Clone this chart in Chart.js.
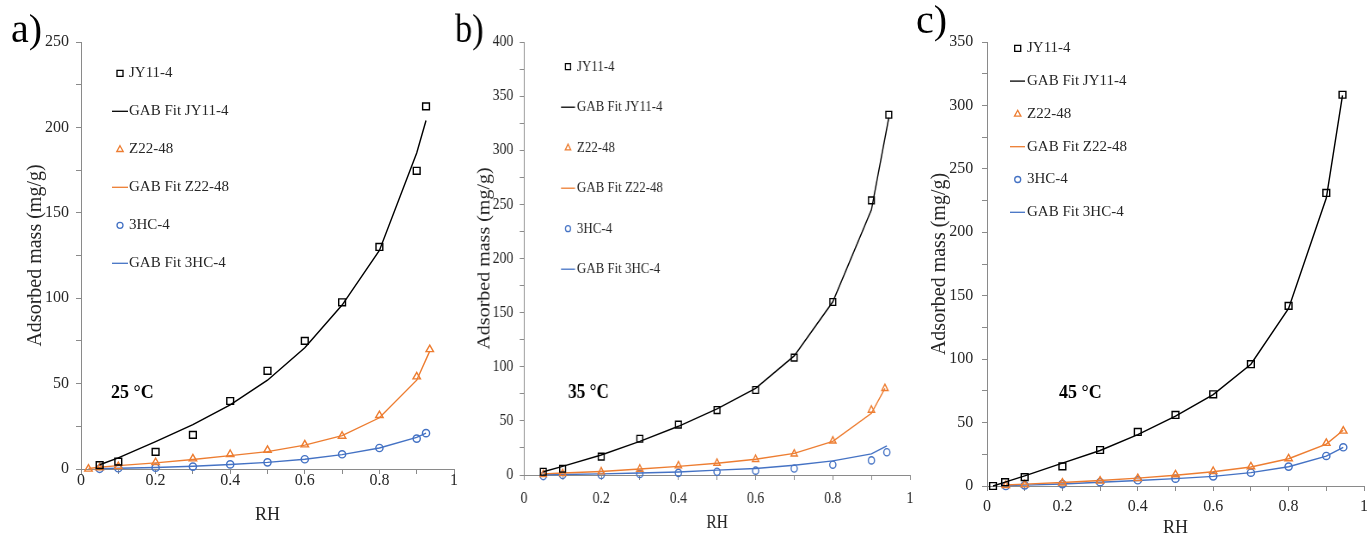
<!DOCTYPE html>
<html>
<head>
<meta charset="utf-8">
<script src="https://cdn.jsdelivr.net/npm/chart.js@4.4.1/dist/chart.umd.min.js"></script>
<style>
  html, body { margin: 0; padding: 0; background: #fff; overflow: hidden; width: 1367px; height: 537px; }
  .panel { position: absolute; top: 0; }
  .panel canvas { display: block; }
  #pa { left: 0; }
  #pb { left: 455px; transform: scaleX(0.86); transform-origin: 0 0; }
  #pc { left: 900px; }
</style>
</head>
<body>
<div class="panel" id="pa"><canvas id="ca" width="470" height="560"></canvas></div>
<div class="panel" id="pb"><canvas id="cb" width="547" height="560"></canvas></div>
<div class="panel" id="pc"><canvas id="cc" width="480" height="560"></canvas></div>
<script>
// ---- Water sorption isotherms: adsorbed mass (mg/g) vs relative humidity ----
const seriesNames = ['JY11-4', 'GAB Fit JY11-4', 'Z22-48', 'GAB Fit Z22-48', '3HC-4', 'GAB Fit 3HC-4'];
const panelTags = ['a)', 'b)', 'c)'];
const temperatures = ['25 °C', '35 °C', '45 °C'];
const yMaxima = [250, 400, 350];
const xTickLabels = ['0', '0.2', '0.4', '0.6', '0.8', '1'];

// 25 °C
const rhJY25 = [0.05, 0.1, 0.2, 0.3, 0.4, 0.5, 0.6, 0.7, 0.8, 0.9, 0.925];
const jy25 = [2.3, 4.3, 10, 20, 39.8, 57.5, 75, 97.6, 130, 174.6, 212.3];
const jy25Fit = [2.5, 6.5, 16, 26, 37.5, 52, 71, 96, 128, 185, 204];
const rhZ25 = [0.02, 0.05, 0.1, 0.2, 0.3, 0.4, 0.5, 0.6, 0.7, 0.8, 0.9, 0.935];
const z25 = [0, 0.8, 1.5, 3.9, 6, 8.6, 11, 14.2, 19.3, 31.4, 54, 70];
const z25Fit = [0.3, 1, 2, 3.6, 5.6, 7.8, 10.2, 14, 19.5, 30, 52, 69];
const rhHC25 = [0.05, 0.1, 0.2, 0.3, 0.4, 0.5, 0.6, 0.7, 0.8, 0.9, 0.925];
const hc25 = [0.1, 0.4, 0.8, 1.4, 2.7, 3.9, 5.7, 8.6, 12.3, 17.8, 21];
const hc25Fit = [0.2, 0.4, 0.9, 1.6, 2.6, 3.9, 5.7, 8.4, 12.3, 18.5, 21];

// 35 °C
const rhJY35 = [0.05, 0.1, 0.2, 0.3, 0.4, 0.5, 0.6, 0.7, 0.8, 0.9, 0.945];
const jy35 = [3, 5.8, 17, 33.5, 46.5, 60, 78.5, 108.4, 159.8, 253.7, 332.8];
const jy35Fit = [3, 8, 18.5, 31, 45, 61, 80, 110, 160, 245, 330];
const rhZ35 = [0.05, 0.1, 0.2, 0.3, 0.4, 0.5, 0.6, 0.7, 0.8, 0.9, 0.935];
const z35 = [0.5, 1.5, 3, 5.5, 8.6, 11, 14.5, 19.5, 31.5, 60, 80];
const z35Fit = [1, 1.8, 3.3, 5.5, 8, 10.8, 14.5, 20, 31, 57, 80];
const rhHC35 = [0.05, 0.1, 0.2, 0.3, 0.4, 0.5, 0.6, 0.7, 0.8, 0.9, 0.94];
const hc35 = [-1, 0, 0, 1, 2, 3, 4, 6, 9.5, 13.5, 21];
const hc35Fit = [0.2, 0.5, 1, 1.8, 2.8, 4.5, 6, 9, 13, 19.5, 27];

// 45 °C
const rhJY45 = [0.016, 0.048, 0.1, 0.2, 0.3, 0.4, 0.5, 0.6, 0.7, 0.8, 0.9, 0.943];
const jy45 = [0, 3, 7, 15.5, 28.4, 42.6, 56, 72.3, 96, 142, 231, 308.4];
const jy45Fit = [0, 3, 8, 18, 28, 40.5, 55, 72, 96, 140, 227, 308];
const rhZ45 = [0.05, 0.1, 0.2, 0.3, 0.4, 0.5, 0.6, 0.7, 0.8, 0.9, 0.945];
const z45 = [0.5, 1, 2.5, 4, 6, 9, 11.6, 15.3, 21.6, 33.7, 43.4];
const z45Fit = [0.8, 1.5, 2.8, 4.3, 6.2, 8.5, 11.2, 15, 21.5, 33, 44];
const rhHC45 = [0.05, 0.1, 0.2, 0.3, 0.4, 0.5, 0.6, 0.7, 0.8, 0.9, 0.945];
const hc45 = [0, 0.5, 1.5, 3, 4.5, 5.8, 7.6, 10.5, 15.3, 23.7, 30.5];
const hc45Fit = [0.3, 0.7, 1.6, 2.9, 4.3, 5.8, 7.6, 10.5, 15.2, 23.5, 30.5];

// ---- styling ----
const FONT = "'Liberation Serif', 'Times New Roman', serif";
const AXIS = '#8a8a8a';
const TEXT = '#262626';
const BLACK = '#000000';
const ORANGE = '#ED7D31';
const BLUE = '#4472C4';

const pts = (xs, ys) => xs.map((x, i) => ({ x: x, y: ys[i] }));

function markerSet(label, data, color, style, radius) {
  return {
    label: label, data: data, showLine: false,
    pointStyle: style, pointRadius: radius, pointBorderWidth: 1.4,
    borderColor: color, backgroundColor: 'rgba(0,0,0,0)',
    pointBackgroundColor: 'rgba(0,0,0,0)', clip: false
  };
}
function fitSet(label, data, color) {
  return {
    label: label, data: data, showLine: true, tension: 0,
    pointRadius: 0, borderColor: color, borderWidth: 1.4,
    backgroundColor: color, clip: false
  };
}

function buildSets(rhJY, jy, jyFit, rhZ, z, zFit, rhHC, hc, hcFit) {
  return [
    markerSet(seriesNames[0], pts(rhJY, jy), BLACK, 'rect', 4.8),
    fitSet(seriesNames[1], pts(rhJY, jyFit), BLACK),
    markerSet(seriesNames[2], pts(rhZ, z), ORANGE, 'triangle', 4.3),
    fitSet(seriesNames[3], pts(rhZ, zFit), ORANGE),
    markerSet(seriesNames[4], pts(rhHC, hc), BLUE, 'circle', 3.6),
    fitSet(seriesNames[5], pts(rhHC, hcFit), BLUE)
  ];
}

// Panel tag, temperature note and the in-plot key
const decor = {
  id: 'decor',
  afterDraw(chart, args, o) {
    const ctx = chart.ctx;
    ctx.save();
    ctx.fillStyle = '#000';
    ctx.textAlign = 'left';
    ctx.textBaseline = 'alphabetic';
    ctx.font = '40px ' + FONT;
    ctx.fillText(o.tag, o.tagX, o.tagY);
    ctx.font = 'bold ' + o.tempSize + 'px ' + FONT;
    ctx.fillText(o.temp, o.tempX, o.tempY);

    const lg = o.key;
    ctx.font = '15px ' + FONT;
    ctx.textBaseline = 'middle';
    chart.data.datasets.forEach((ds, i) => {
      const y = lg.y0 + i * lg.dy;
      ctx.strokeStyle = ds.borderColor;
      ctx.lineWidth = 1.3;
      ctx.beginPath();
      if (ds.showLine) {
        ctx.moveTo(lg.x0, y);
        ctx.lineTo(lg.x1, y);
      } else if (ds.pointStyle === 'rect') {
        ctx.rect(lg.mx - 3, y - 3, 6, 6);
      } else if (ds.pointStyle === 'triangle') {
        ctx.moveTo(lg.mx, y - 3.6);
        ctx.lineTo(lg.mx + 3.2, y + 2.2);
        ctx.lineTo(lg.mx - 3.2, y + 2.2);
        ctx.closePath();
      } else {
        ctx.arc(lg.mx, y, 3, 0, Math.PI * 2);
      }
      ctx.stroke();
      ctx.fillStyle = TEXT;
      ctx.fillText(ds.label, lg.tx, y);
    });
    ctx.restore();
  }
};

function makeChart(p) {
  // p holds page coordinates; convert to the panel canvas frame
  const X = v => (v - p.left) / p.s;
  const W = p.canvas.width, H = p.canvas.height;
  const Wy = 70, Hx = 60;
  return new Chart(p.canvas, {
    type: 'scatter',
    data: { datasets: p.sets },
    plugins: [decor],
    options: {
      responsive: false, animation: false, events: [],
      layout: { padding: {
        left: X(p.area.l) - Wy, right: W - X(p.area.r),
        top: p.area.t, bottom: H - p.area.b - Hx } },
      plugins: {
        legend: { display: false }, tooltip: { enabled: false },
        decor: {
          tag: p.tag, tagX: X(p.tagX), tagY: p.tagY,
          temp: p.temp, tempX: X(p.tempX), tempY: p.tempY, tempSize: p.tempSize,
          key: { x0: X(p.key.x0), x1: X(p.key.x1), mx: X(p.key.mx), tx: X(p.key.tx), y0: p.key.y0, dy: p.key.dy }
        }
      },
      scales: {
        x: {
          type: 'linear', min: 0, max: 1,
          afterFit: sc => { sc.height = Hx; },
          border: { display: true, color: AXIS, width: 1 },
          grid: { drawOnChartArea: false, drawTicks: true, tickLength: 5, color: AXIS, lineWidth: 1 },
          ticks: {
            stepSize: 0.1, autoSkip: false, maxRotation: 0, minRotation: 0,
            padding: p.xTickPad, color: TEXT,
            font: { family: FONT, size: 16, lineHeight: 1 },
            callback: v => { const r = Math.round(v * 10); return r % 2 === 0 ? xTickLabels[r / 2] : ''; }
          },
          title: { display: true, text: 'RH', color: TEXT,
            font: { family: FONT, size: 18, lineHeight: 1.2 },
            padding: { top: 0, bottom: p.xTitlePad } }
        },
        y: {
          type: 'linear', min: 0, max: p.ymax,
          afterFit: sc => { sc.width = Wy; },
          border: { display: true, color: AXIS, width: 1 },
          grid: { drawOnChartArea: false, drawTicks: true, tickLength: 5, color: AXIS, lineWidth: 1 },
          ticks: {
            stepSize: 25, autoSkip: false, padding: p.yTickPad, color: TEXT,
            font: { family: FONT, size: 16, lineHeight: 1.2 },
            callback: v => (v % 50 === 0 ? String(v) : '')
          },
          title: { display: true, text: 'Adsorbed mass (mg/g)', color: TEXT,
            font: { family: FONT, size: 20, lineHeight: 1.2 },
            padding: { top: p.yTitlePad, bottom: 0 } }
        }
      }
    }
  });
}

makeChart({
  canvas: document.getElementById('ca'), left: 0, s: 1,
  area: { l: 81, r: 454, t: 42, b: 469 }, ymax: yMaxima[0],
  xTickPad: -1, xTitlePad: 3.2, yTickPad: 7, yTitlePad: 13,
  tag: panelTags[0], tagX: 11, tagY: 42,
  temp: temperatures[0], tempX: 111, tempY: 398, tempSize: 18,
  key: { x0: 112, x1: 128, mx: 120, tx: 129, y0: 73.3, dy: 38 },
  sets: buildSets(rhJY25, jy25, jy25Fit, rhZ25, z25, z25Fit, rhHC25, hc25, hc25Fit)
});

makeChart({
  canvas: document.getElementById('cb'), left: 455, s: 0.86,
  area: { l: 524, r: 910, t: 42, b: 475 }, ymax: yMaxima[1],
  xTickPad: 11, xTitlePad: 1.2, yTickPad: 7.4, yTitlePad: 12.7,
  tag: panelTags[1], tagX: 455, tagY: 42,
  temp: temperatures[1], tempX: 568, tempY: 398, tempSize: 20,
  key: { x0: 561, x1: 575, mx: 568, tx: 577, y0: 66.7, dy: 40.5 },
  sets: buildSets(rhJY35, jy35, jy35Fit, rhZ35, z35, z35Fit, rhHC35, hc35, hc35Fit)
});

makeChart({
  canvas: document.getElementById('cc'), left: 900, s: 1,
  area: { l: 987, r: 1364, t: 42, b: 486 }, ymax: yMaxima[2],
  xTickPad: 7.3, xTitlePad: 7.2, yTickPad: 8.7, yTitlePad: 11,
  tag: panelTags[2], tagX: 916, tagY: 33,
  temp: temperatures[2], tempX: 1059, tempY: 398, tempSize: 18,
  key: { x0: 1010, x1: 1025, mx: 1017.7, tx: 1027, y0: 48.3, dy: 32.8 },
  sets: buildSets(rhJY45, jy45, jy45Fit, rhZ45, z45, z45Fit, rhHC45, hc45, hc45Fit)
});
</script>
</body>
</html>
